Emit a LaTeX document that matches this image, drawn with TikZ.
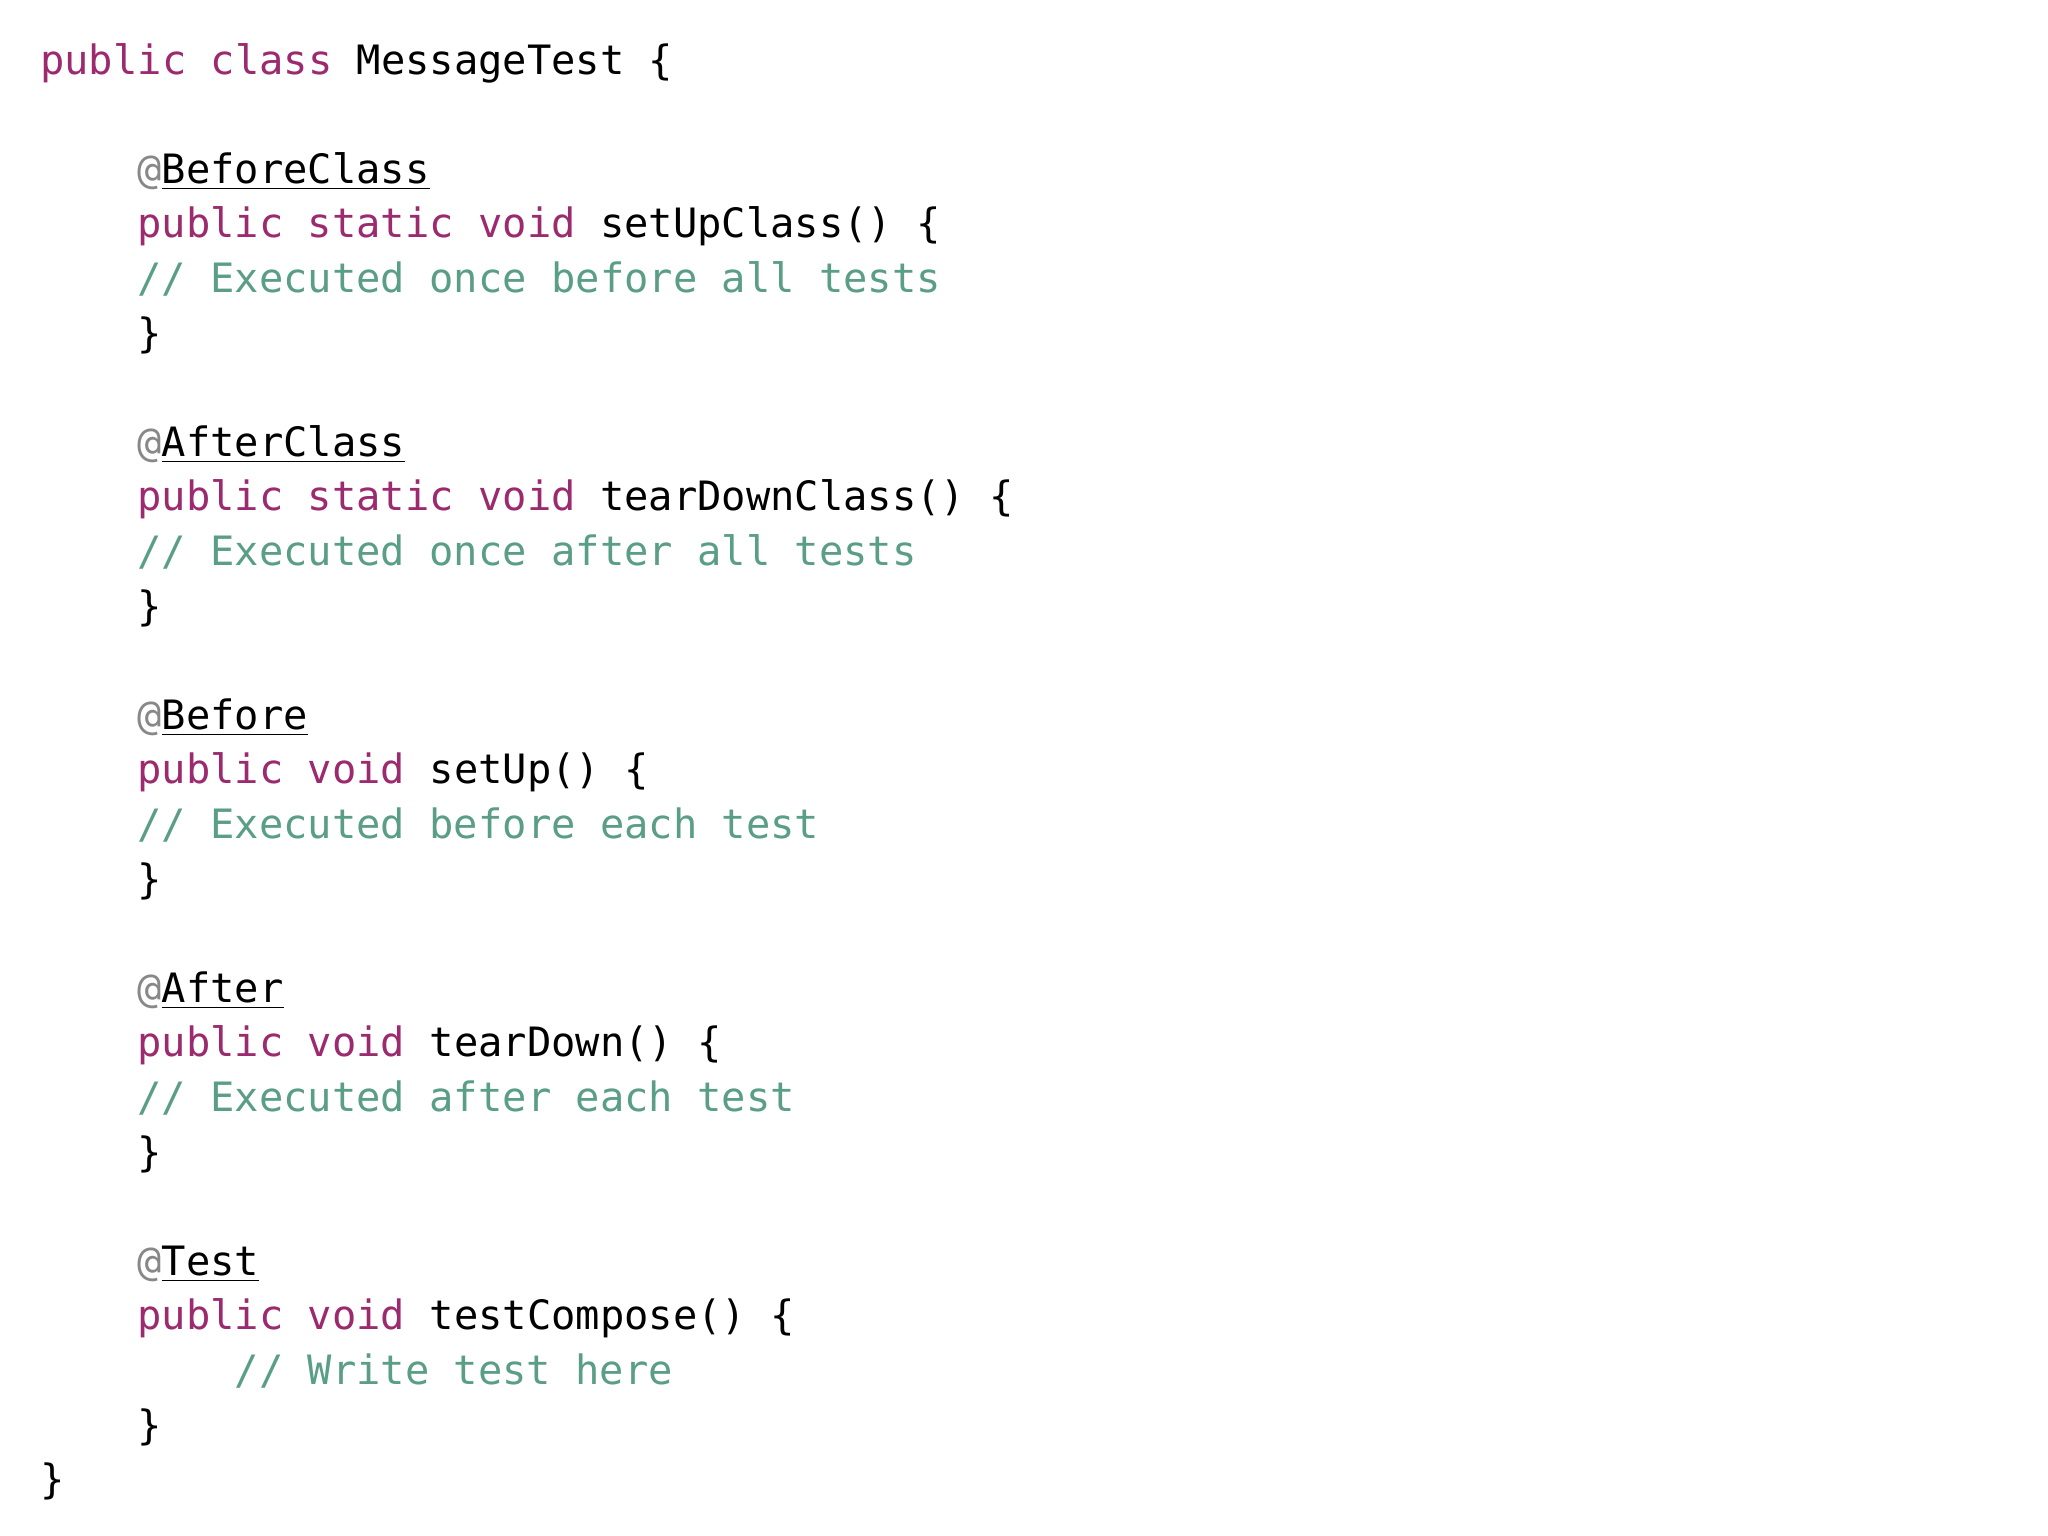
\documentclass[tikz,border=0pt]{standalone}
\usepackage{fontspec}
\setmonofont{DejaVu Sans Mono}
\definecolor{kw}{HTML}{9B2A6E}
\definecolor{cm}{HTML}{5A9E86}
\definecolor{at}{HTML}{888888}
\newcommand{\K}[1]{\textcolor{kw}{#1}}
\newcommand{\C}[1]{\textcolor{cm}{#1}}
\newcommand{\A}[1]{\textcolor{at}{@}\underline{#1}}
\begin{document}
\begin{tikzpicture}[x=0.01cm,y=-0.01cm,
  ln/.style={anchor=base west,inner sep=0pt,font=\ttfamily\fontsize{11.5pt}{13pt}\selectfont}]
\useasboundingbox[fill=white] (0,0) rectangle (2048,1536);
\def\L#1#2#3{\node[ln] (l#1) at ({39.6+24.3*#2},{74+54.6*#1}) {#3};}
\L{0}{0}{\K{public class} MessageTest \{}
\L{2}{4}{\A{BeforeClass}}
\L{3}{4}{\K{public static void} setUpClass() \{}
\L{4}{4}{\C{// Executed once before all tests}}
\L{5}{4}{\}}
\L{7}{4}{\A{AfterClass}}
\L{8}{4}{\K{public static void} tearDownClass() \{}
\L{9}{4}{\C{// Executed once after all tests}}
\L{10}{4}{\}}
\L{12}{4}{\A{Before}}
\L{13}{4}{\K{public void} setUp() \{}
\L{14}{4}{\C{// Executed before each test}}
\L{15}{4}{\}}
\L{17}{4}{\A{After}}
\L{18}{4}{\K{public void} tearDown() \{}
\L{19}{4}{\C{// Executed after each test}}
\L{20}{4}{\}}
\L{22}{4}{\A{Test}}
\L{23}{4}{\K{public void} testCompose() \{}
\L{24}{8}{\C{// Write test here}}
\L{25}{4}{\}}
\L{26}{0}{\}}
\end{tikzpicture}
\end{document}
